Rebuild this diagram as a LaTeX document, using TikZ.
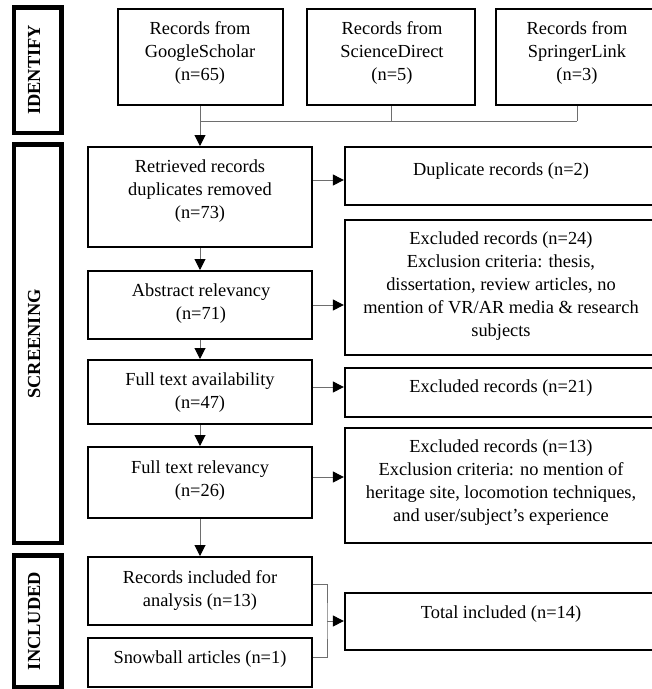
\documentclass[tikz,border=0pt]{standalone}
\usepackage{fontspec}
\usepackage{graphicx}
\setmainfont{Liberation Serif}
\usetikzlibrary{arrows.meta}
\definecolor{conncol}{RGB}{110,110,110}
\newcommand\tnorm{\fontsize{18.4}{23}\selectfont}
\begin{document}
\begin{tikzpicture}[x=1pt,y=-1pt,
  box/.style={draw=black, line width=2pt, rectangle, inner sep=0pt},
  rbox/.style={draw=black, line width=2.3pt, rectangle, inner sep=0pt},
  side/.style={draw=black, line width=4.5pt, rectangle, inner sep=0pt},
  txt/.style={align=center, font=\tnorm, inner sep=0pt},
  sidetxt/.style={font=\tnorm\bfseries, rotate=90, inner sep=0pt},
  conn/.style={draw=conncol, line width=1pt},
  arr/.style={conn, -{Triangle[length=11pt,width=11pt,color=black]}},
]
\useasboundingbox (0,0) rectangle (652,689);
\clip (0,0) rectangle (652,689);

% side labels
\node[side, minimum width=47.5pt, minimum height=125.5pt] (idf) at (37.5,70) {};
\node[sidetxt] (idft) at (34,70) {IDENTIFY};
\node[side, minimum width=47.5pt, minimum height=398.5pt] (scr) at (37.5,343.5) {};
\node[sidetxt] (scrt) at (34,344) {SCREENING};
\node[side, minimum width=47.5pt, minimum height=131.5pt] (inc) at (37.5,621) {};
\node[sidetxt] (inct) at (34,621) {INCLUDED};

% top sources
\node[box, minimum width=165pt, minimum height=96pt] (google) at (200,57) {};
\node[txt] (googlet) at (200,53) {Records from\\GoogleScholar\\(n=65)};
\node[box, minimum width=168pt, minimum height=96pt] (sd) at (391,57) {};
\node[txt] (sdt) at (392,53) {Records from\\ScienceDirect\\(n=5)};
\node[box, minimum width=162pt, minimum height=96pt] (sl) at (577,57) {};
\node[txt] (slt) at (577,53) {Records from\\SpringerLink\\(n=3)};

% left column
\node[box, minimum width=224pt, minimum height=100pt] (ret) at (200,197) {};
\node[txt] (rett) at (200,191) {Retrieved records\\duplicates removed\\(n=73)};
\node[box, minimum width=224pt, minimum height=68pt] (abs) at (200,305) {};
\node[txt] (abst) at (201,303.5) {Abstract relevancy\\(n=71)};
\node[box, minimum width=224pt, minimum height=64pt] (fta) at (200,392) {};
\node[txt] (ftat) at (200,392.5) {Full text availability\\(n=47)};
\node[box, minimum width=224pt, minimum height=71pt] (ftr) at (200,482.5) {};
\node[txt] (ftrt) at (200,480.5) {Full text relevancy\\(n=26)};
\node[box, minimum width=224pt, minimum height=68pt] (rin) at (200,591) {};
\node[txt] (rint) at (200,590.5) {Records included for\\analysis (n=13)};
\node[box, minimum width=224pt, minimum height=49pt] (snow) at (200,662.5) {};
\node[txt] (snowt) at (200,659) {Snowball articles (n=1)};

% right column
\node[rbox, minimum width=312pt, minimum height=58pt] (dup) at (501,176) {};
\node[txt] (dupt) at (501,171) {Duplicate records (n=2)};
\node[rbox, minimum width=312pt, minimum height=135pt] (ex24) at (501,287.5) {};
\node[txt] (ex24t) at (501,286) {Excluded records (n=24)\\Exclusion criteria: thesis,\\dissertation, review articles, no\\mention of VR/AR media \& research\\subjects};
\node[rbox, minimum width=312pt, minimum height=49pt] (ex21) at (501,392.5) {};
\node[txt] (ex21t) at (501,388) {Excluded records (n=21)};
\node[rbox, minimum width=312pt, minimum height=115pt] (ex13) at (501,485.5) {};
\node[txt] (ex13t) at (501,483) {Excluded records (n=13)\\Exclusion criteria: no mention of\\heritage site, locomotion techniques,\\and user/subject’s experience};
\node[rbox, minimum width=312pt, minimum height=57pt] (tot) at (501,621.5) {};
\node[txt] (tott) at (501,614) {Total included (n=14)};

% connectors
\coordinate (hub) at (200,121);
\draw[conn] (google.south) -- (hub);
\draw[conn] (hub) -- (hub -| sl.south);
\draw[conn] (sd.south) -- (sd.south |- hub);
\draw[conn] (sl.south) -- (sl.south |- hub);
\draw[arr] (hub) -- (ret.north);
\draw[arr] (ret.south) -- (abs.north);
\draw[arr] (abs.south) -- (fta.north);
\draw[arr] (fta.south) -- (ftr.north);
\draw[arr] (ftr.south) -- (rin.north);

\coordinate (r1) at ([yshift=17pt]ret.east);
\draw[arr] (r1) -- (r1 -| dup.west);
\draw[arr] (abs.east) -- (abs.east -| ex24.west);
\coordinate (r3) at ([yshift=5pt]fta.east);
\draw[arr] (r3) -- (r3 -| ex21.west);
\coordinate (r4) at ([yshift=5.5pt]ftr.east);
\draw[arr] (r4) -- (r4 -| ex13.west);

\coordinate (b1) at ([yshift=7pt]rin.east);
\coordinate (b2) at ([yshift=5.5pt]snow.east);
\coordinate (br) at (327,621);
\draw[conn] (b1) -| (br) |- (b2);
\draw[arr] (br) -- (br -| tot.west);
\end{tikzpicture}
\end{document}
